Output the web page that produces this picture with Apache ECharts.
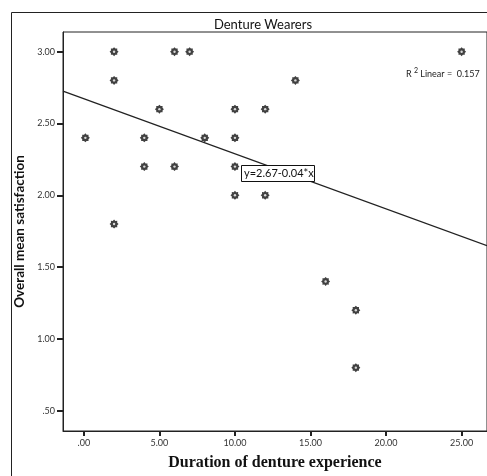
<!DOCTYPE html>
<html>
<head>
<meta charset="utf-8">
<script src="https://cdn.jsdelivr.net/npm/echarts@6/dist/echarts.min.js"></script>
<style>
html,body{margin:0;padding:0;background:#fff;}
#c{width:487px;height:476px;}
</style>
</head>
<body>
<div id="c"></div>
<script>
// Data
var durationYears = [0.1, 2, 2, 2, 4, 4, 5, 6, 6, 7, 8, 10, 10, 10, 10, 12, 12, 14, 16, 18, 18, 25];
var meanSatisfaction = [2.4, 3.0, 2.8, 1.8, 2.4, 2.2, 2.6, 3.0, 2.2, 3.0, 2.4, 2.6, 2.4, 2.2, 2.0, 2.6, 2.0, 2.8, 1.4, 1.2, 0.8, 3.0];
var fitLineX = [-1.38, 26.68];
var fitLineY = [2.725, 1.650];
var xTickValues = [0, 5, 10, 15, 20, 25];
var yTickValues = [0.5, 1.0, 1.5, 2.0, 2.5, 3.0];
var chartTitle = 'Denture Wearers';
var xTitle = 'Duration of denture experience';
var yTitle = 'Overall mean satisfaction';
var equationText = 'y=2.67-0.04*x';
var r2Value = '0.157';

var points = durationYears.map(function (x, i) { return [x, meanSatisfaction[i]]; });
var fitLine = fitLineX.map(function (x, i) { return [x, fitLineY[i]]; });

function fmt(v) {
  var s = v.toFixed(2);
  if (s.charAt(0) === '0') s = s.substring(1);
  return s;
}

// 8-spike gear-like marker
var starPath = (function () {
  var pts = [];
  var n = 8;
  for (var i = 0; i < n * 2; i++) {
    var a = Math.PI * i / n - Math.PI / 2;
    var r = (i % 2 === 0) ? 10 : 7.5;
    pts.push((10 + r * Math.cos(a)).toFixed(2) + ',' + (10 + r * Math.sin(a)).toFixed(2));
  }
  return 'path://M' + pts.join('L') + 'Z';
})();

var chart = echarts.init(document.getElementById('c'), null, { renderer: 'canvas' });
var axisColor = '#222';
chart.setOption({
  animation: false,
  backgroundColor: '#fff',
  grid: { left: 63, right: -10, top: 32, bottom: 44, show: true, borderColor: axisColor, borderWidth: 1, backgroundColor: 'transparent' },
  xAxis: {
    type: 'value', min: -1.38, max: 26.68,
    name: xTitle, nameLocation: 'middle', nameGap: 24,
    nameTextStyle: { fontFamily: 'Liberation Serif', fontWeight: 'bold', fontSize: 16, color: '#111' },
    axisLine: { show: true, onZero: false, lineStyle: { color: axisColor, width: 1 } },
    axisTick: { show: true, customValues: xTickValues, length: 5, lineStyle: { color: axisColor, width: 2 } },
    axisLabel: { customValues: xTickValues, formatter: fmt, fontSize: 9, color: '#333', fontFamily: 'Lato', margin: 8 },
    splitLine: { show: false }
  },
  yAxis: {
    type: 'value', min: 0.359, max: 3.137,
    name: yTitle, nameLocation: 'middle', nameGap: 30,
    nameTextStyle: { fontFamily: 'Lato', fontWeight: 'bold', fontSize: 13.5, color: '#111' },
    axisLine: { show: true, onZero: false, lineStyle: { color: axisColor, width: 1 } },
    axisTick: { show: true, customValues: yTickValues, length: 6, lineStyle: { color: axisColor, width: 2 } },
    axisLabel: { customValues: yTickValues, formatter: fmt, fontSize: 9, color: '#333', fontFamily: 'Lato', margin: 8 },
    splitLine: { show: false }
  },
  series: [
    {
      type: 'line', data: fitLine, symbol: 'none', silent: true,
      lineStyle: { color: '#222', width: 1.3 }, z: 2
    },
    {
      type: 'scatter', data: points, symbol: starPath, symbolSize: 9,
      itemStyle: { color: '#111' }, z: 3
    },
    {
      type: 'scatter', data: points, symbol: 'circle', symbolSize: 2.4,
      itemStyle: { color: '#fff' }, z: 4
    }
  ],
  graphic: [
    { type: 'polyline', shape: { points: [[11.5, 476], [11.5, 12.5], [487, 12.5]] }, style: { stroke: '#222', lineWidth: 1, fill: null }, z: 1 },
    { type: 'text', style: { text: chartTitle, x: 263, y: 25, align: 'center', verticalAlign: 'middle', font: '13px Lato', fill: '#111' }, z: 10 },
    {
      type: 'group', z: 20,
      children: [
        { type: 'rect', shape: { x: 241.5, y: 165.5, width: 73, height: 16 }, style: { fill: '#fff', stroke: '#111', lineWidth: 1 }, z: 20 },
        { type: 'text', style: { text: equationText, x: 244, y: 173.5, verticalAlign: 'middle', font: '11px Lato', fill: '#111' }, z: 21 }
      ]
    },
    {
      type: 'text', z: 20,
      style: {
        text: '{a|R }{s|2}{a| Linear =  ' + r2Value + '}', x: 406, y: 74, verticalAlign: 'middle',
        rich: { a: { fontFamily: 'Lato', fontSize: 9, fill: '#222' }, s: { fontFamily: 'Lato', fontSize: 7, fill: '#222', verticalAlign: 'top', padding: [0, 0, 6, 0] } }
      }
    }
  ]
});
</script>
</body>
</html>
